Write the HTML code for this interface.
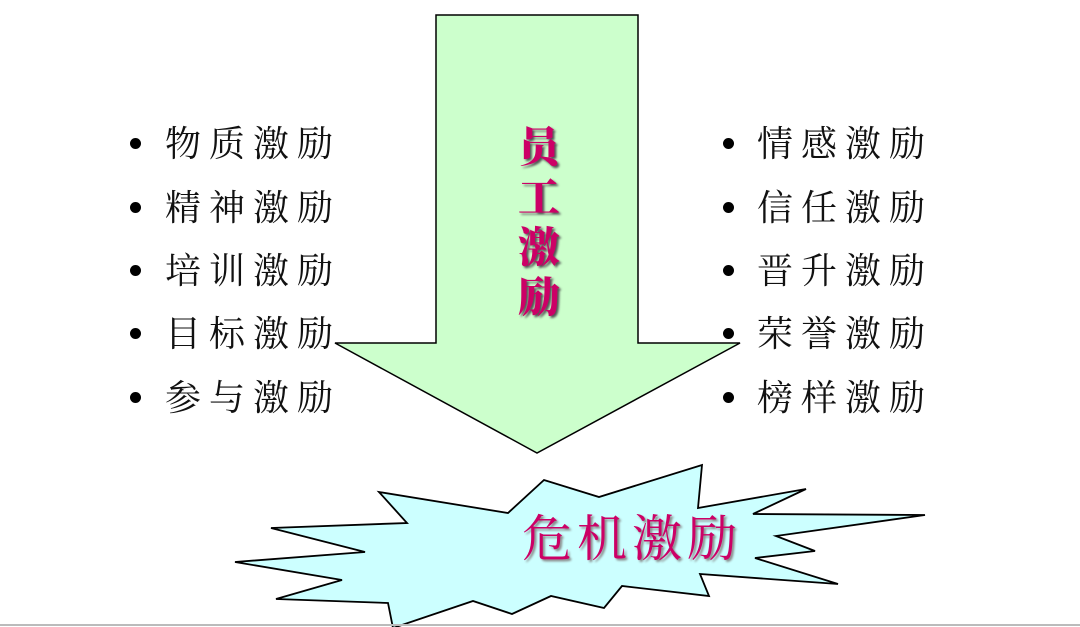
<!DOCTYPE html>
<html><head><meta charset="utf-8">
<style>
body{margin:0;background:#fff;}
.wrap{position:relative;width:1080px;height:627px;overflow:hidden;background:#fff;}
.item{position:absolute;font-family:"Liberation Serif","Noto Serif CJK SC",serif;font-size:36px;letter-spacing:8px;color:#111;line-height:40px;white-space:nowrap;}
.dot{position:absolute;width:11px;height:11px;border-radius:50%;background:#000;}
.v{position:absolute;left:514px;top:120px;width:50px;font-family:"Noto Serif CJK SC",serif;font-weight:900;font-size:42px;line-height:50px;color:#cc0066;text-shadow:2px 2px 2px #555;text-align:center;}
.c{position:absolute;left:522px;top:505px;font-family:"Noto Serif CJK SC",serif;font-size:50px;line-height:60px;color:#cc0066;text-shadow:2px 2px 2px #888;letter-spacing:5px;white-space:nowrap;}
</style></head><body><div class="wrap">
<svg width="1080" height="627" style="position:absolute;left:0;top:0">
<polygon points="436,15 638,15 638,343 740,343 537,453 335,343 436,343" fill="#ccffcc" stroke="#000" stroke-width="1.5"/>
<polygon points="379,492 508,513 544,480 599,497 702,465 698,508 806,489 753,514 925,515 776,536 815,551 755,558 838,584 700,574 709,596 622,586 604,608 551,596 512,614 473,601 393,628 388,603 276,599 342,580 235,562 365,552 271,528 407,523" fill="#ccffff" stroke="#000" stroke-width="1.8" stroke-linejoin="miter"/>
<line x1="0" y1="625" x2="1080" y2="625" stroke="#bbb" stroke-width="2"/>
</svg>
<div class="dot" style="left:130px;top:138px"></div><div class="item" style="left:165px;top:124px">物质激励</div>
<div class="dot" style="left:130px;top:202px"></div><div class="item" style="left:165px;top:188px">精神激励</div>
<div class="dot" style="left:130px;top:265px"></div><div class="item" style="left:165px;top:251px">培训激励</div>
<div class="dot" style="left:130px;top:328px"></div><div class="item" style="left:165px;top:314px">目标激励</div>
<div class="dot" style="left:130px;top:392px"></div><div class="item" style="left:165px;top:378px">参与激励</div>
<div class="dot" style="left:723px;top:138px"></div><div class="item" style="left:757px;top:124px">情感激励</div>
<div class="dot" style="left:723px;top:202px"></div><div class="item" style="left:757px;top:188px">信任激励</div>
<div class="dot" style="left:723px;top:265px"></div><div class="item" style="left:757px;top:251px">晋升激励</div>
<div class="dot" style="left:723px;top:328px"></div><div class="item" style="left:757px;top:314px">荣誉激励</div>
<div class="dot" style="left:723px;top:392px"></div><div class="item" style="left:757px;top:378px">榜样激励</div>
<div class="v">员<br>工<br>激<br>励</div>
<div class="c">危机激励</div>
</div></body></html>
